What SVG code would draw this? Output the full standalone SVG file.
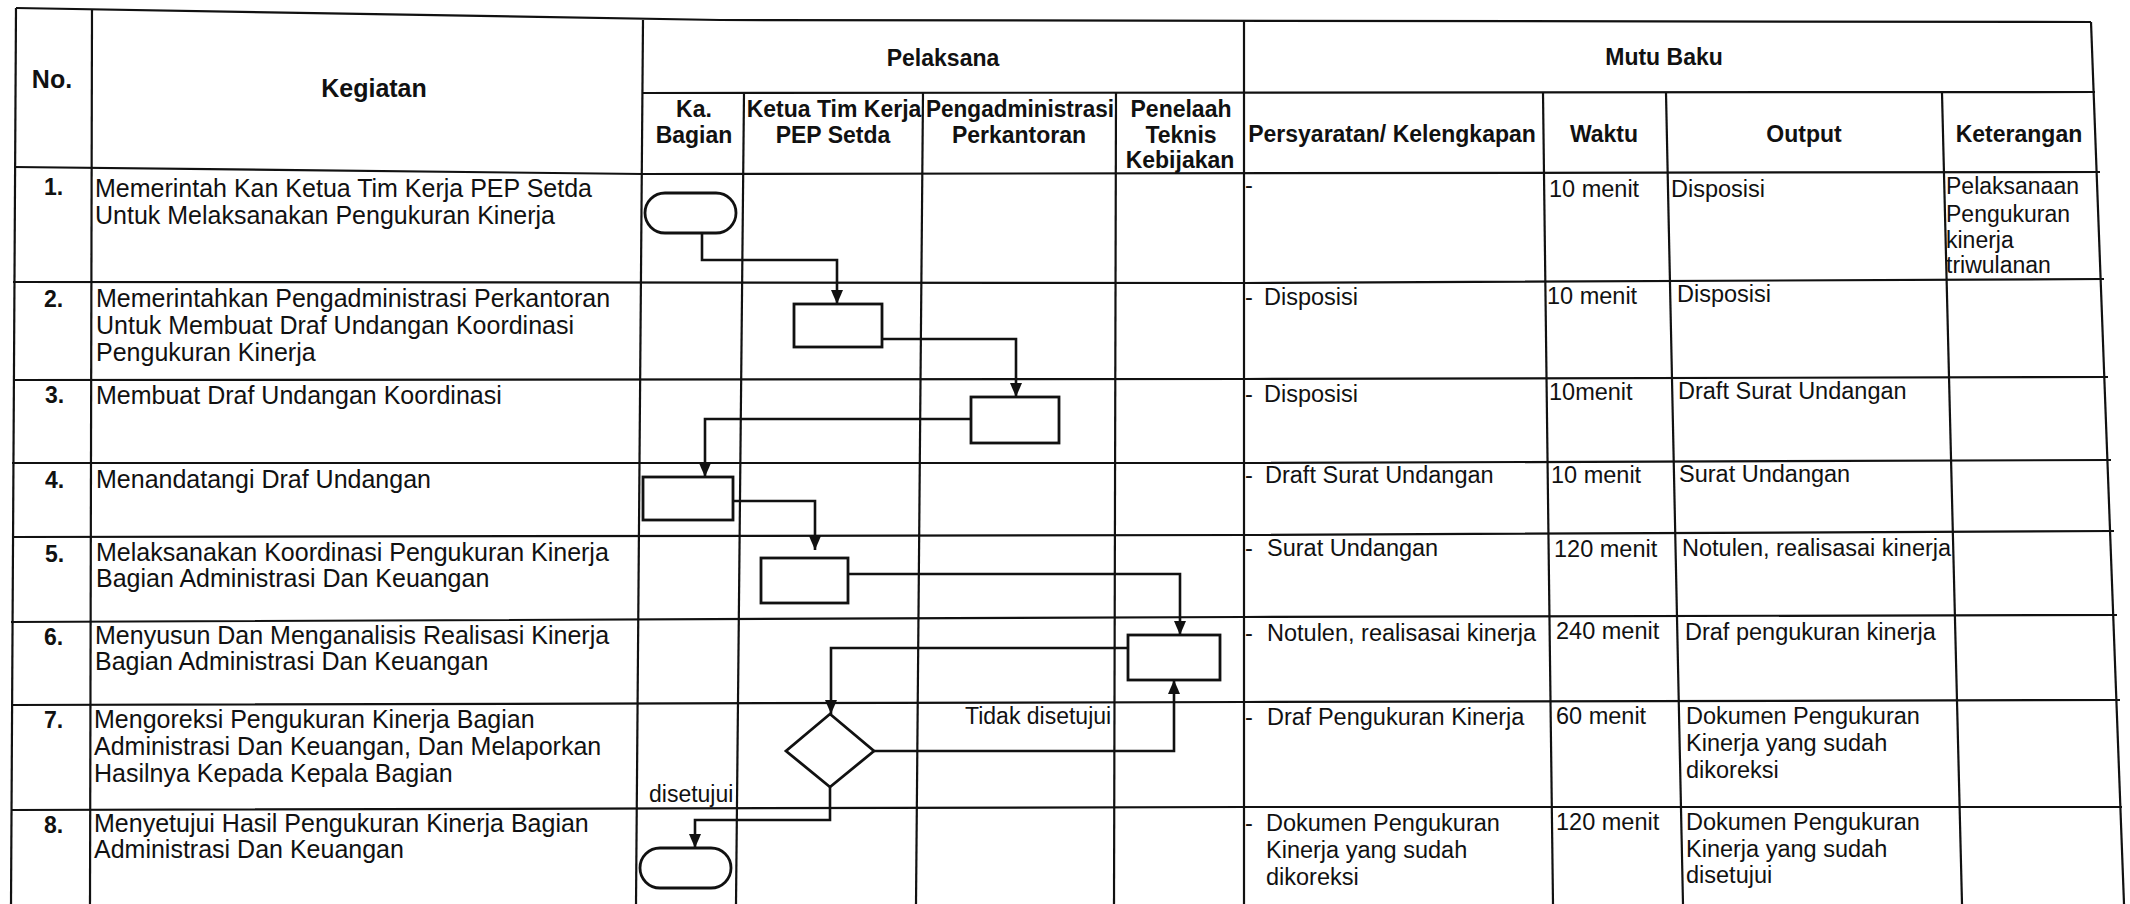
<svg xmlns="http://www.w3.org/2000/svg" width="2130" height="904" viewBox="0 0 2130 904">
<style>
.ln{fill:none;stroke:#111;stroke-width:2.2}
.sh{fill:#fff;stroke:#111;stroke-width:2.8}
.cn{fill:none;stroke:#111;stroke-width:2.6}
.hd{font-family:"Liberation Sans",Arial,sans-serif;font-weight:bold;font-size:23px;fill:#111;text-anchor:middle}
.num{font-family:"Liberation Sans",Arial,sans-serif;font-weight:bold;font-size:23px;fill:#111}
.tx{font-family:"Liberation Sans",Arial,sans-serif;font-size:25px;fill:#111}
.mt{font-family:"Liberation Sans",Arial,sans-serif;font-size:23.5px;fill:#111}
.kt{font-family:"Liberation Sans",Arial,sans-serif;font-size:23px;fill:#111}
</style>
<defs>
<marker id="arr" viewBox="0 0 14 12" refX="14" refY="6" markerWidth="14" markerHeight="12" markerUnits="userSpaceOnUse" orient="auto">
<path d="M0,0 L14,6 L0,12 z" fill="#111"/>
</marker>
</defs>
<rect width="2130" height="904" fill="#fff"/>

<g id="table">
<polyline class="ln" points="16,8 720,20 2091,22"/>
<polyline class="ln" points="643,93 2095,92"/>
<polyline class="ln" points="14,167 643,174 2100,172"/>
<polyline class="ln" points="13,282 1244,283 2104,279"/>
<polyline class="ln" points="13,380 1244,379 2108,377"/>
<polyline class="ln" points="12,463 1244,463 2111,460"/>
<polyline class="ln" points="12,537 1244,535 2114,531"/>
<polyline class="ln" points="11,622 1244,617 2117,615"/>
<polyline class="ln" points="11,705 1244,702 2120,700"/>
<polyline class="ln" points="11,810 1244,807 2122,807"/>
<line class="ln" x1="16" y1="8" x2="11" y2="904"/>
<line class="ln" x1="92" y1="10" x2="90" y2="904"/>
<line class="ln" x1="643" y1="20" x2="636" y2="904"/>
<line class="ln" x1="744" y1="93" x2="736" y2="904"/>
<line class="ln" x1="923" y1="93" x2="916" y2="904"/>
<line class="ln" x1="1116" y1="93" x2="1114" y2="904"/>
<line class="ln" x1="1244" y1="21" x2="1244" y2="904"/>
<line class="ln" x1="1543" y1="93" x2="1553" y2="904"/>
<line class="ln" x1="1666" y1="93" x2="1683" y2="904"/>
<line class="ln" x1="1942" y1="93" x2="1962" y2="904"/>
<line class="ln" x1="2091" y1="22" x2="2124" y2="904"/>
</g>

<g id="header">
<text class="hd" x="52" y="88" style="font-size:25px">No.</text>
<text class="hd" x="374" y="97" style="font-size:25px">Kegiatan</text>
<text class="hd" x="943" y="66">Pelaksana</text>
<text class="hd" x="1664" y="65">Mutu Baku</text>
<text class="hd" x="694" y="117">Ka.</text>
<text class="hd" x="694" y="143">Bagian</text>
<text class="hd" x="834" y="117">Ketua Tim Kerja</text>
<text class="hd" x="833" y="143">PEP Setda</text>
<text class="hd" x="1020" y="117" textLength="188" lengthAdjust="spacingAndGlyphs">Pengadministrasi</text>
<text class="hd" x="1019" y="143">Perkantoran</text>
<text class="hd" x="1181" y="117">Penelaah</text>
<text class="hd" x="1181" y="143">Teknis</text>
<text class="hd" x="1180" y="168">Kebijakan</text>
<text class="hd" x="1392" y="142">Persyaratan/ Kelengkapan</text>
<text class="hd" x="1604" y="142">Waktu</text>
<text class="hd" x="1804" y="142">Output</text>
<text class="hd" x="2019" y="142">Keterangan</text>
</g>

<g id="numbers">
<text class="num" x="44" y="195">1.</text>
<text class="num" x="44" y="307">2.</text>
<text class="num" x="45" y="403">3.</text>
<text class="num" x="45" y="488">4.</text>
<text class="num" x="45" y="562">5.</text>
<text class="num" x="44" y="645">6.</text>
<text class="num" x="44" y="728">7.</text>
<text class="num" x="44" y="833">8.</text>
</g>

<g id="kegiatan">
<text class="tx" x="95" y="197">Memerintah Kan Ketua Tim Kerja PEP Setda</text>
<text class="tx" x="95" y="224">Untuk Melaksanakan Pengukuran Kinerja</text>
<text class="tx" x="96" y="307">Memerintahkan Pengadministrasi Perkantoran</text>
<text class="tx" x="96" y="334">Untuk Membuat Draf Undangan Koordinasi</text>
<text class="tx" x="96" y="361">Pengukuran Kinerja</text>
<text class="tx" x="96" y="404">Membuat Draf Undangan Koordinasi</text>
<text class="tx" x="96" y="488">Menandatangi Draf Undangan</text>
<text class="tx" x="96" y="561">Melaksanakan Koordinasi Pengukuran Kinerja</text>
<text class="tx" x="96" y="587">Bagian Administrasi Dan Keuangan</text>
<text class="tx" x="95" y="644">Menyusun Dan Menganalisis Realisasi Kinerja</text>
<text class="tx" x="95" y="670">Bagian Administrasi Dan Keuangan</text>
<text class="tx" x="94" y="728">Mengoreksi Pengukuran Kinerja Bagian</text>
<text class="tx" x="94" y="755">Administrasi Dan Keuangan, Dan Melaporkan</text>
<text class="tx" x="94" y="782">Hasilnya Kepada Kepala Bagian</text>
<text class="tx" x="94" y="832">Menyetujui Hasil Pengukuran Kinerja Bagian</text>
<text class="tx" x="94" y="858">Administrasi Dan Keuangan</text>
</g>

<g id="persyaratan">
<text class="mt" x="1245" y="193">-</text>
<text class="mt" x="1245" y="305">-</text><text class="mt" x="1264" y="305">Disposisi</text>
<text class="mt" x="1245" y="402">-</text><text class="mt" x="1264" y="402">Disposisi</text>
<text class="mt" x="1245" y="483">-</text><text class="mt" x="1265" y="483">Draft Surat Undangan</text>
<text class="mt" x="1245" y="556">-</text><text class="mt" x="1267" y="556">Surat Undangan</text>
<text class="mt" x="1245" y="641">-</text><text class="mt" x="1267" y="641">Notulen, realisasai kinerja</text>
<text class="mt" x="1245" y="725">-</text><text class="mt" x="1267" y="725">Draf Pengukuran Kinerja</text>
<text class="mt" x="1245" y="831">-</text><text class="mt" x="1266" y="831">Dokumen Pengukuran</text>
<text class="mt" x="1266" y="858">Kinerja yang sudah</text>
<text class="mt" x="1266" y="885">dikoreksi</text>
</g>

<g id="waktu">
<text class="mt" x="1549" y="197">10 menit</text>
<text class="mt" x="1547" y="304">10 menit</text>
<text class="mt" x="1549" y="400">10menit</text>
<text class="mt" x="1551" y="483">10 menit</text>
<text class="mt" x="1554" y="557">120 menit</text>
<text class="mt" x="1556" y="639">240 menit</text>
<text class="mt" x="1556" y="724">60 menit</text>
<text class="mt" x="1556" y="830">120 menit</text>
</g>

<g id="output">
<text class="mt" x="1671" y="197">Disposisi</text>
<text class="mt" x="1677" y="302">Disposisi</text>
<text class="mt" x="1678" y="399">Draft Surat Undangan</text>
<text class="mt" x="1679" y="482">Surat Undangan</text>
<text class="mt" x="1682" y="556">Notulen, realisasai kinerja</text>
<text class="mt" x="1685" y="640">Draf pengukuran kinerja</text>
<text class="mt" x="1686" y="724">Dokumen Pengukuran</text>
<text class="mt" x="1686" y="751">Kinerja yang sudah</text>
<text class="mt" x="1686" y="778">dikoreksi</text>
<text class="mt" x="1686" y="830">Dokumen Pengukuran</text>
<text class="mt" x="1686" y="857">Kinerja yang sudah</text>
<text class="mt" x="1686" y="883">disetujui</text>
</g>

<g id="keterangan">
<text class="kt" x="1946" y="194">Pelaksanaan</text>
<text class="kt" x="1946" y="222">Pengukuran</text>
<text class="kt" x="1946" y="248">kinerja</text>
<text class="kt" x="1946" y="273">triwulanan</text>
</g>

<g id="connectors">
<path class="cn" d="M702,233 V260 H837 V304" marker-end="url(#arr)"/>
<path class="cn" d="M882,339 H1016 V397" marker-end="url(#arr)"/>
<path class="cn" d="M971,419 H705 V477" marker-end="url(#arr)"/>
<path class="cn" d="M733,501 H815 V550" marker-end="url(#arr)"/>
<path class="cn" d="M848,574 H1180 V635" marker-end="url(#arr)"/>
<path class="cn" d="M1128,648 H831 V714" marker-end="url(#arr)"/>
<path class="cn" d="M874,751 H1174 V680" marker-end="url(#arr)"/>
<path class="cn" d="M830,787 V820 H695 V848" marker-end="url(#arr)"/>
<text class="kt" x="965" y="724">Tidak disetujui</text>
<text class="kt" x="649" y="802">disetujui</text>
</g>

<g id="n1"><rect class="sh" x="645" y="193" width="91" height="40" rx="20" ry="20"/></g>
<g id="n2"><rect class="sh" x="794" y="304" width="88" height="43"/></g>
<g id="n3"><rect class="sh" x="971" y="397" width="88" height="46"/></g>
<g id="n4"><rect class="sh" x="643" y="477" width="90" height="43"/></g>
<g id="n5"><rect class="sh" x="761" y="558" width="87" height="45"/></g>
<g id="n6"><rect class="sh" x="1128" y="635" width="92" height="45"/></g>
<g id="n7"><polygon class="sh" points="830,714 874,751 830,787 786,751"/></g>
<g id="n8"><rect class="sh" x="640" y="848" width="91" height="40" rx="20" ry="20"/></g>
</svg>
